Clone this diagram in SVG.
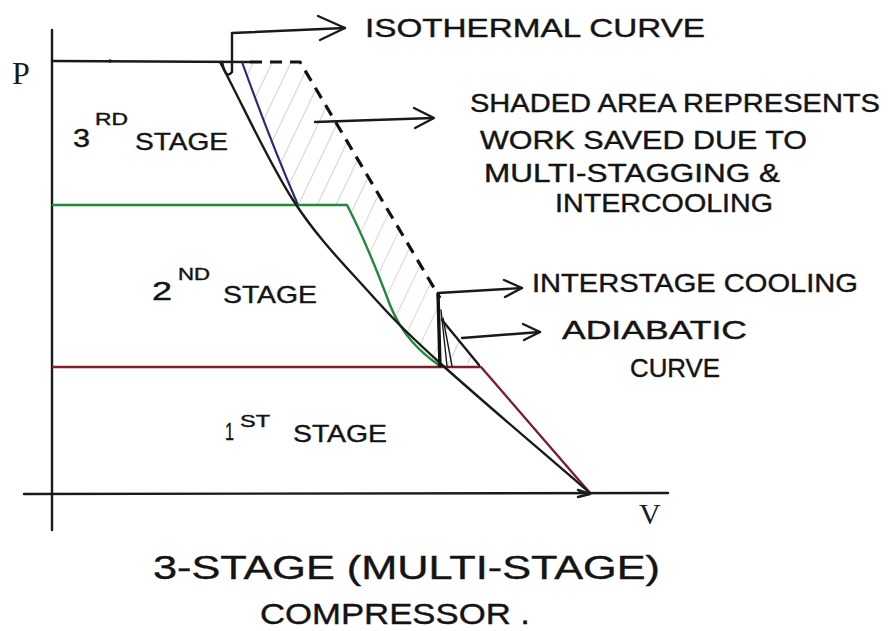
<svg xmlns="http://www.w3.org/2000/svg" width="888" height="631" viewBox="0 0 888 631">
<style>
.ln{fill:none;stroke:#1a1a1a;stroke-width:2.4;stroke-linecap:round;stroke-linejoin:round}
.thin{fill:none;stroke:#1a1a1a;stroke-width:1.4;stroke-linecap:round}
.hw{font-family:"Liberation Sans","DejaVu Sans",sans-serif;fill:#141414;stroke:#141414;stroke-width:0.4}
.sf{font-family:"Liberation Serif","DejaVu Serif",serif;fill:#1a1a1a}
</style>
<defs>
<pattern id="hatchGray" patternUnits="userSpaceOnUse" width="17" height="10" patternTransform="rotate(25.5)">
<line x1="0" y1="0" x2="0" y2="10" stroke="#a8a8a8" stroke-width="1.1"/>
</pattern>
<pattern id="hatchPink" patternUnits="userSpaceOnUse" width="17" height="10" patternTransform="rotate(25.5)">
<line x1="0" y1="0" x2="0" y2="10" stroke="#e2a6ae" stroke-width="1.1"/>
</pattern>
</defs>
<rect width="888" height="631" fill="#ffffff"/>

<g id="shading">
<path d="M242,62 L300,62 L385,205 L298,205 Q270,140 242,62 Z" fill="url(#hatchGray)"/>
<path d="M347,205 L385,205 L440,298 L440,366 C420,352 402,335 390,305 C375,265 360,230 347,205 Z" fill="url(#hatchPink)"/>
<path d="M443,320 L478,362 L446,366 Z" fill="url(#hatchGray)"/>
</g>

<g id="axes">
<line class="ln" x1="52" y1="30" x2="52" y2="530"/>
<line class="ln" x1="24" y1="494" x2="668" y2="493"/>
<text class="sf" x="12" y="84" font-size="32">P</text>
<text class="sf" x="639" y="524" font-size="30">V</text>
</g>

<g id="stage3">
<line class="ln" x1="52" y1="61" x2="250" y2="62"/>
<circle cx="110" cy="61" r="1.8" fill="#1a1a1a"/>
<path d="M242,62 Q270,140 298,205" fill="none" stroke="#2b2b78" stroke-width="2.2"/>
</g>

<g id="stage2">
<path d="M52,205 L347,205 C360,230 375,265 390,305 C402,335 420,352 440,366" fill="none" stroke="#1f8a3c" stroke-width="2.4" stroke-linejoin="round"/>
</g>

<g id="stage1">
<path d="M52,367 L481,367 L590,493" fill="none" stroke="#7b1f2c" stroke-width="2.4" stroke-linejoin="round"/>
</g>

<g id="isothermal">
<path class="ln" d="M220,62 C244.3,108 268.5,162 293,200 C317.5,238 342.5,262.8 367,290 C391.5,317.2 402.8,329.2 440,363 C477.2,396.8 540,449.7 590,493"/>
</g>

<g id="single-stage-adiabatic">
<path d="M250,62 L300,62 L440,298" fill="none" stroke="#111" stroke-width="3.2" stroke-dasharray="12 8"/>
</g>

<g id="interstage-cooling">
<line x1="438" y1="293" x2="440" y2="367" stroke="#111" stroke-width="3.4"/>
<line class="thin" x1="441" y1="310" x2="447" y2="366"/>
<line class="thin" x1="443" y1="318" x2="452" y2="366"/>
<line class="ln" x1="442" y1="320" x2="479" y2="365"/>
<path class="ln" d="M578,490 L590,494 L578,497"/>
</g>

<g id="connectors">
<path class="ln" d="M222,62 Q226,80 232,72 L232,33 L345,28"/>
<path class="ln" d="M318,16 L345,28 L320,40"/>
<path class="ln" d="M315,122 L433,118"/>
<path class="ln" d="M414,108 L434,118 L415,128"/>
<path class="ln" d="M438,293 L522,288"/>
<path class="ln" d="M504,280 L522,288 L505,297"/>
<path class="ln" d="M462,338 L540,332"/>
<path class="ln" d="M523,324 L540,332 L524,340"/>
</g>

<g id="labels">
<text class="hw" x="365" y="37" font-size="26" textLength="340" lengthAdjust="spacingAndGlyphs">ISOTHERMAL CURVE</text>
<text class="hw" x="470" y="112" font-size="25" textLength="410" lengthAdjust="spacingAndGlyphs">SHADED AREA REPRESENTS</text>
<text class="hw" x="480" y="149" font-size="25" textLength="327" lengthAdjust="spacingAndGlyphs">WORK SAVED DUE TO</text>
<text class="hw" x="484" y="182" font-size="25" textLength="296" lengthAdjust="spacingAndGlyphs">MULTI-STAGGING &amp;</text>
<text class="hw" x="555" y="212" font-size="25" textLength="218" lengthAdjust="spacingAndGlyphs">INTERCOOLING</text>
<text class="hw" x="532" y="292" font-size="25" textLength="326" lengthAdjust="spacingAndGlyphs">INTERSTAGE COOLING</text>
<text class="hw" x="562" y="339" font-size="25" textLength="185" lengthAdjust="spacingAndGlyphs">ADIABATIC</text>
<text class="hw" x="630" y="377" font-size="25" textLength="90" lengthAdjust="spacingAndGlyphs">CURVE</text>

<text class="hw" x="73" y="147" font-size="25" textLength="17" lengthAdjust="spacingAndGlyphs">3</text>
<text class="hw" x="95" y="125" font-size="17" textLength="33" lengthAdjust="spacingAndGlyphs">RD</text>
<text class="hw" x="135" y="150" font-size="24" textLength="93" lengthAdjust="spacingAndGlyphs">STAGE</text>

<text class="hw" x="152" y="300" font-size="25" textLength="20" lengthAdjust="spacingAndGlyphs">2</text>
<text class="hw" x="178" y="280" font-size="17" textLength="32" lengthAdjust="spacingAndGlyphs">ND</text>
<text class="hw" x="223" y="303" font-size="24" textLength="94" lengthAdjust="spacingAndGlyphs">STAGE</text>

<text class="hw" x="225" y="440" font-size="24" textLength="9" lengthAdjust="spacingAndGlyphs">1</text>
<text class="hw" x="240" y="427" font-size="17" textLength="30" lengthAdjust="spacingAndGlyphs">ST</text>
<text class="hw" x="293" y="442" font-size="24" textLength="94" lengthAdjust="spacingAndGlyphs">STAGE</text>

<text class="hw" x="153" y="579" font-size="34" textLength="507" lengthAdjust="spacingAndGlyphs">3-STAGE (MULTI-STAGE)</text>
<text class="hw" x="260" y="624" font-size="30" textLength="270" lengthAdjust="spacingAndGlyphs">COMPRESSOR .</text>
</g>
</svg>
